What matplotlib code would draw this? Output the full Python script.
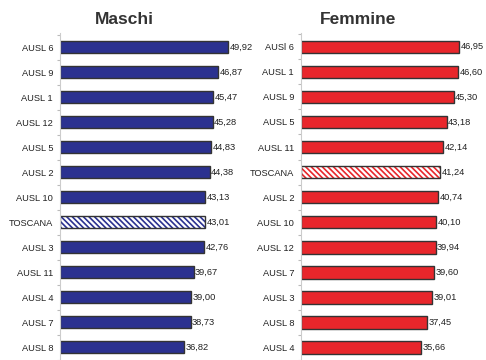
import matplotlib.pyplot as plt
import numpy as np

# dati
maschi_labels = ["AUSL 6", "AUSL 9", "AUSL 1", "AUSL 12", "AUSL 5", "AUSL 2", "AUSL 10",
                 "TOSCANA", "AUSL 3", "AUSL 11", "AUSL 4", "AUSL 7", "AUSL 8"]
maschi_values = [49.92, 46.87, 45.47, 45.28, 44.83, 44.38, 43.13,
                 43.01, 42.76, 39.67, 39.00, 38.73, 36.82]

femmine_labels = ["AUSl 6", "AUSL 1", "AUSL 9", "AUSL 5", "AUSL 11", "TOSCANA", "AUSL 2",
                  "AUSL 10", "AUSL 12", "AUSL 7", "AUSL 3", "AUSL 8", "AUSL 4"]
femmine_values = [46.95, 46.60, 45.30, 43.18, 42.14, 41.24, 40.74,
                  40.10, 39.94, 39.60, 39.01, 37.45, 35.66]

plt.rcParams['font.family'] = ['Liberation Sans Narrow', 'Liberation Sans', 'DejaVu Sans']
plt.rcParams['hatch.linewidth'] = 1.2

fig = plt.figure(figsize=(4.86, 3.6), dpi=100)

def draw_panel(left_px, labels, values, color, title, title_x, ylims):
    ax = fig.add_axes([left_px / 486, 0, 180 / 486, 1 - 33 / 360])
    y = np.arange(len(values))
    for i, (lab, v) in enumerate(zip(labels, values)):
        if lab == "TOSCANA":
            # hatch nel colore della serie, bordo scuro sopra
            ax.barh(i, v, height=0.5, color='white', edgecolor=color,
                    hatch='\\' * 6, linewidth=0)
            ax.barh(i, v, height=0.5, fill=False, edgecolor='#333333', linewidth=1.0)
        else:
            ax.barh(i, v, height=0.5, color=color, edgecolor='#333333', linewidth=1.0)
        ax.text(v + 0.4, i, f"{v:.2f}".replace('.', ','), va='center', ha='left',
                fontsize=6.7, color='#222222')
    ax.set_xlim(0, 53.4)
    ax.set_ylim(*ylims)
    ax.set_yticks(y)
    ax.set_yticklabels(labels, fontsize=6.7, color='#222222')
    ax.set_yticks(np.arange(-0.5, 13, 1), minor=True)
    ax.tick_params(axis='y', which='major', length=0, pad=5)
    ax.tick_params(axis='y', which='minor', length=2, color='#bbbbbb', width=0.8)
    ax.set_xticks([])
    for s in ['top', 'right', 'bottom']:
        ax.spines[s].set_visible(False)
    ax.spines['left'].set_color('#cccccc')
    ax.spines['left'].set_linewidth(0.8)
    fig.text(title_x / 486, 1 - 19 / 360, title, ha='center', va='center',
             fontsize=12.5, fontweight='bold', color='#333333', family='Liberation Sans')
    return ax

draw_panel(60, maschi_labels, maschi_values, '#2B3190', 'Maschi', 124, (12.52, -0.56))
draw_panel(301, femmine_labels, femmine_values, '#E8262B', 'Femmine', 358, (12.32, -0.55))

fig.savefig('out.png', dpi=100)
